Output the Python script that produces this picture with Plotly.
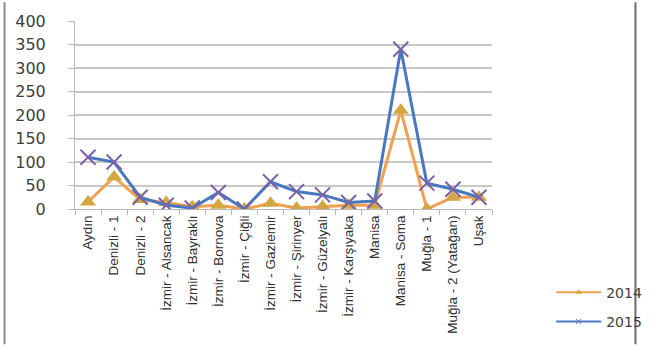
import plotly.graph_objects as go

# Station names and yearly values
stations = [
    "Aydın", "Denizli - 1", "Denizli - 2", "İzmir - Alsancak", "İzmir - Bayraklı",
    "İzmir - Bornova", "İzmir - Çiğli", "İzmir - Gaziemir", "İzmir - Şirinyer",
    "İzmir - Güzelyalı", "İzmir - Karşıyaka", "Manisa", "Manisa - Soma",
    "Muğla - 1", "Muğla - 2 (Yatağan)", "Uşak",
]
values_2014 = [15, 68, 20, 14, 5, 8, 0, 12, 2, 5, 8, 8, 210, 0, 25, 25]
values_2015 = [110, 100, 25, 8, 2, 35, 0, 58, 37, 30, 14, 17, 340, 55, 42, 25]
y_ticks = [0, 50, 100, 150, 200, 250, 300, 350, 400]

c14_line, c14_mark = "#F0A050", "#D2A640"
c15_line, c15_mark = "#4A78C0", "#7A62A8"

fig = go.Figure()
fig.add_trace(go.Scatter(
    x=stations, y=values_2014, name="2014", mode="lines+markers",
    line=dict(color=c14_line, width=3),
    marker=dict(symbol="triangle-up", size=14, color=c14_mark),
    showlegend=False,
))
fig.add_trace(go.Scatter(
    x=stations, y=values_2015, name="2015", mode="lines+markers",
    line=dict(color=c15_line, width=3),
    marker=dict(symbol="x-thin", size=15, line=dict(color=c15_mark, width=2)),
    showlegend=False,
))
# legend entries with small symbols
fig.add_trace(go.Scatter(
    x=[None], y=[None], name="2014", mode="lines+markers",
    line=dict(color=c14_line, width=2),
    marker=dict(symbol="triangle-up", size=6, color=c14_mark),
    legendgroup="a",
))
fig.add_trace(go.Scatter(
    x=[None], y=[None], name="2015", mode="lines+markers",
    line=dict(color=c15_line, width=2),
    marker=dict(symbol="x-thin", size=5, line=dict(color=c15_mark, width=1)),
    legendgroup="b",
))

# outer frame of the chart
fig.add_shape(type="line", xref="paper", yref="paper",
              x0=-0.169, x1=-0.169, y0=-0.72, y1=1.1,
              line=dict(color="#8c8c8c", width=2))
fig.add_shape(type="line", xref="paper", yref="paper",
              x0=1.344, x1=1.344, y0=-0.72, y1=1.1,
              line=dict(color="#6c6c6c", width=2))

fig.update_layout(
    width=659, height=349,
    margin=dict(l=75, r=156, t=12, b=140),
    paper_bgcolor="white", plot_bgcolor="white",
    showlegend=True,
    legend=dict(
        x=1.142, y=-0.36, xanchor="left", yanchor="top",
        font=dict(family="DejaVu Sans", size=14, color="#404040"),
        tracegroupgap=8, bgcolor="rgba(0,0,0,0)",
        itemwidth=45,
    ),
    xaxis=dict(
        type="category", tickangle=-90,
        tickfont=dict(family="Liberation Sans", size=13.5, color="#303030"),
        showgrid=False, showline=True, linecolor="#b8b8b8", linewidth=1,
        ticks="outside", ticklen=5, tickcolor="#b8b8b8", tickson="boundaries",
        range=[-0.5, 15.5],
    ),
    yaxis=dict(
        range=[0, 400], tickvals=y_ticks,
        tickfont=dict(family="DejaVu Sans", size=16, color="#404040"),
        showgrid=True, gridcolor="#c8c8c8", gridwidth=1.5,
        showline=True, linecolor="#b8b8b8", linewidth=1,
        ticks="outside", ticklen=6, tickcolor="#b8b8b8",
        ticklabelstandoff=19, zeroline=False,
    ),
)

fig.write_html("out.html")
